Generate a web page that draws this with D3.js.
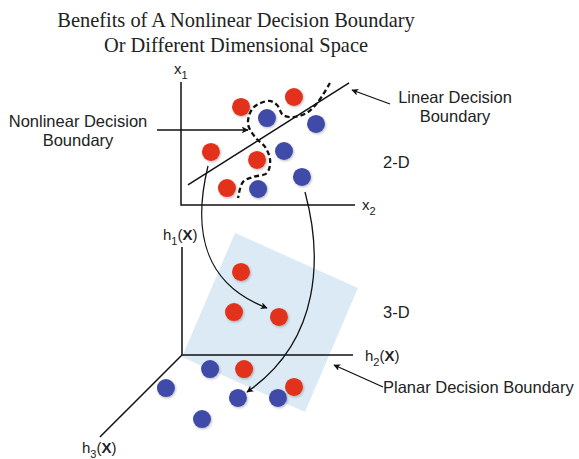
<!DOCTYPE html>
<html>
<head>
<meta charset="utf-8">
<script src="https://cdn.jsdelivr.net/npm/d3@7"></script>
<style>
  html, body { margin: 0; padding: 0; background: #fff; }
  svg { display: block; }
  .lbl { font-family: "Liberation Sans", Arial, sans-serif; font-size: 16.5px; fill: #222; }
  .ax { font-family: "Liberation Sans", Arial, sans-serif; font-size: 15px; fill: #222; }
  .title { font-family: "Liberation Serif", "Times New Roman", serif; font-size: 20.4px; fill: #222; }
</style>
</head>
<body>
<svg id="chart" width="579" height="459"></svg>
<script>
// 2-D panel, values in (x2, x1) units
const red2d = [[3.45, 7.97], [6.49, 8.78], [1.72, 4.31], [4.37, 3.66], [2.64, 1.38]];
const blue2d = [[4.94, 7.07], [7.76, 6.59], [5.92, 4.39], [6.95, 2.28], [4.43, 1.30]];
const linearBoundary = [[0.40, 1.63], [9.66, 9.92]];
const nonlinearBoundary = [
  [8.56, 9.92], [7.87, 8.37], [7.24, 7.50], [6.44, 7.15], [5.86, 7.32], [5.52, 8.13],
  [5.06, 8.46], [4.14, 7.89], [3.85, 6.62], [4.25, 5.53], [4.83, 4.72], [5.12, 3.66],
  [4.94, 2.60], [4.14, 2.28], [3.56, 1.87], [3.28, 0.57]
];
// 3-D panel, values in (h2, h1) units of the projected view
const red3d = [[3.45, 7.69], [3.04, 3.98], [5.67, 3.52], [3.63, -1.30], [6.55, -2.96]];
const blue3d = [[1.64, -1.30], [-0.94, -3.06], [3.27, -3.98], [5.61, -3.98], [1.17, -5.93]];
const plane = [[3.10, 11.30], [10.29, 6.20], [7.19, -5.28], [0.0, -0.19]];
const h3Axis = [[0, 0], [-4.8, -7.6]];

const titleLines = ["Benefits of A Nonlinear Decision Boundary", "Or Different Dimensional Space"];

const svg = d3.select("#chart");

// scales
const x2 = d3.scaleLinear().domain([0, 10]).range([181, 355]);
const x1 = d3.scaleLinear().domain([0, 10]).range([205, 82]);
const h2 = d3.scaleLinear().domain([0, 10]).range([182, 353]);
const h1 = d3.scaleLinear().domain([0, 10]).range([355, 247]);

const RED = "#e2331b", BLUE = "#3f4ba9", R = 9;

// defs: arrowhead and soft shadow
const defs = svg.append("defs");
defs.append("marker")
    .attr("id", "arrow")
    .attr("viewBox", "0 0 10 10")
    .attr("refX", 9).attr("refY", 5)
    .attr("markerWidth", 7).attr("markerHeight", 7)
    .attr("markerUnits", "userSpaceOnUse")
    .attr("orient", "auto")
    .append("path").attr("d", "M0,0 L10,5 L0,10 L2.5,5 Z").attr("fill", "#111");
const shadow = defs.append("filter").attr("id", "soft")
    .attr("x", "-30%").attr("y", "-30%").attr("width", "160%").attr("height", "160%");
shadow.append("feDropShadow")
    .attr("dx", 1).attr("dy", 1.2).attr("stdDeviation", 1)
    .attr("flood-color", "#000").attr("flood-opacity", 0.25);

// title
svg.append("g").selectAll("text").data(titleLines).join("text")
    .attr("class", "title")
    .attr("x", 236).attr("y", (d, i) => 27 + i * 25)
    .attr("text-anchor", "middle")
    .text(d => d);

const axisLine = d3.line();

// ---------- 3-D panel ----------
const g3 = svg.append("g");
g3.append("polygon")
    .attr("points", plane.map(p => [h2(p[0]), h1(p[1])].join(",")).join(" "))
    .attr("fill", "#d6e6f3").attr("opacity", 0.85);

g3.append("path")
    .attr("d", axisLine([[h2(0), h1(10)], [h2(0), h1(0)], [h2(10), h1(0)]]))
    .attr("fill", "none").attr("stroke", "#111").attr("stroke-width", 1.5);
g3.append("path")
    .attr("d", axisLine(h3Axis.map(p => [h2(p[0]), h1(p[1])])))
    .attr("fill", "none").attr("stroke", "#111").attr("stroke-width", 1.5);

g3.selectAll("circle.b3").data(blue3d).join("circle").attr("class", "b3")
    .attr("cx", d => h2(d[0])).attr("cy", d => h1(d[1])).attr("r", R)
    .attr("fill", BLUE).attr("filter", "url(#soft)");
g3.selectAll("circle.r3").data(red3d).join("circle").attr("class", "r3")
    .attr("cx", d => h2(d[0])).attr("cy", d => h1(d[1])).attr("r", R)
    .attr("fill", RED).attr("filter", "url(#soft)");

// ---------- 2-D panel ----------
const g2 = svg.append("g");
g2.append("path")
    .attr("d", axisLine([[x2(0), x1(10)], [x2(0), x1(0)], [x2(10), x1(0)]]))
    .attr("fill", "none").attr("stroke", "#111").attr("stroke-width", 1.5);

g2.selectAll("circle.r2").data(red2d).join("circle").attr("class", "r2")
    .attr("cx", d => x2(d[0])).attr("cy", d => x1(d[1])).attr("r", R)
    .attr("fill", RED).attr("filter", "url(#soft)");
g2.selectAll("circle.b2").data(blue2d).join("circle").attr("class", "b2")
    .attr("cx", d => x2(d[0])).attr("cy", d => x1(d[1])).attr("r", R)
    .attr("fill", BLUE).attr("filter", "url(#soft)");

g2.append("path")
    .attr("d", axisLine(linearBoundary.map(d => [x2(d[0]), x1(d[1])])))
    .attr("stroke", "#111").attr("stroke-width", 1.5);

g2.append("path")
    .attr("d", d3.line().curve(d3.curveCatmullRom.alpha(0.5))(nonlinearBoundary.map(d => [x2(d[0]), x1(d[1])])))
    .attr("fill", "none").attr("stroke", "#111").attr("stroke-width", 2.3)
    .attr("stroke-dasharray", "5,3");

// mapping curves from 2-D to 3-D
const arrows = svg.append("g").attr("fill", "none").attr("stroke", "#111").attr("stroke-width", 1.3);
arrows.append("path")
    .attr("d", "M208,166 C192,232 204,284 267,308")
    .attr("marker-end", "url(#arrow)");
arrows.append("path")
    .attr("d", "M305,192 C322,255 322,340 247,392")
    .attr("marker-end", "url(#arrow)");

// label pointers
arrows.append("path").attr("d", "M157,130 L248,130").attr("marker-end", "url(#arrow)");
arrows.append("path").attr("d", "M390,104 L352,90").attr("marker-end", "url(#arrow)");
arrows.append("path").attr("d", "M383,387 L334,365").attr("marker-end", "url(#arrow)");

// text labels
const labels = svg.append("g");
function multi(lines, x, y, anchor) {
  labels.append("g").selectAll("text").data(lines).join("text")
      .attr("class", "lbl").attr("text-anchor", anchor)
      .attr("x", x).attr("y", (d, i) => y + i * 19)
      .text(d => d);
}
multi(["Nonlinear Decision", "Boundary"], 78, 127, "middle");
multi(["Linear Decision", "Boundary"], 455, 103, "middle");
multi(["2-D"], 383, 168, "start");
multi(["3-D"], 383, 318, "start");
multi(["Planar Decision Boundary"], 383, 393, "start");

function axisLabel(x, y, base, sub, bold) {
  const t = labels.append("text").attr("class", "ax").attr("x", x).attr("y", y);
  t.append("tspan").text(base);
  t.append("tspan").attr("dy", 5).attr("font-size", "11px").text(sub);
  if (bold) {
    t.append("tspan").attr("dy", -5).text("(");
    t.append("tspan").attr("font-weight", "bold").text("X");
    t.append("tspan").text(")");
  }
}
axisLabel(174, 74, "x", "1", false);
axisLabel(362, 210, "x", "2", false);
axisLabel(163, 240, "h", "1", true);
axisLabel(365, 361, "h", "2", true);
axisLabel(82, 453, "h", "3", true);
</script>
</body>
</html>
